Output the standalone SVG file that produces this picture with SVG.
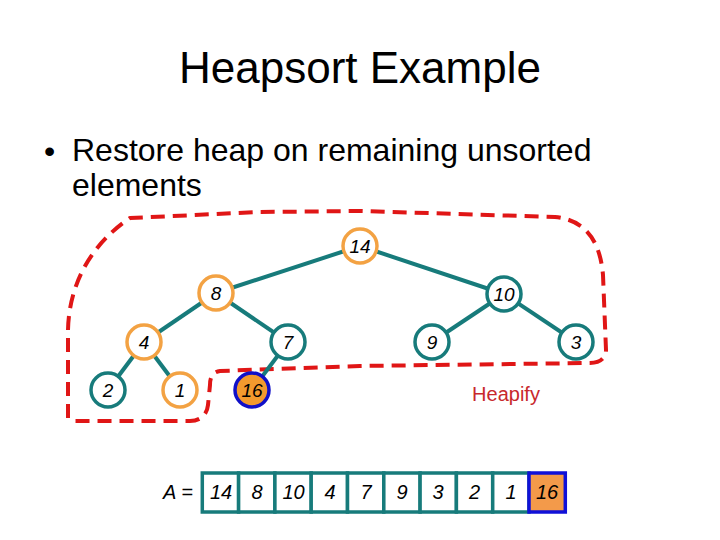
<svg xmlns="http://www.w3.org/2000/svg" width="720" height="540" viewBox="0 0 720 540">
<style>
  text { font-family: "Liberation Sans", Arial, sans-serif; fill: #000; }
  .title { font-size: 44px; text-anchor: middle; }
  .bullet { font-size: 32px; }
  .num { font-size: 19px; font-style: italic; text-anchor: middle; }
  .cellt { font-size: 20px; font-style: italic; text-anchor: middle; }
  .edge { stroke: #177b7b; stroke-width: 4; fill: none; }
  .n-teal { fill: #fff; stroke: #177b7b; stroke-width: 3.5; }
  .n-orange { fill: #fff; stroke: #f3a243; stroke-width: 3.5; }
  .n-hot { fill: #f39a2e; stroke: #1010c8; stroke-width: 3.5; }
  .cell { fill: #fff; stroke: #177b7b; stroke-width: 3.5; }
  .cell-hot { fill: #f39a4a; stroke: #1010d8; stroke-width: 3.5; }
  .dash { fill: none; stroke: #e01616; stroke-width: 4; stroke-dasharray: 14 8; stroke-linejoin: round; }
</style>
<rect width="720" height="540" fill="#fff"/>
<text class="title" x="360" y="83">Heapsort Example</text>
<text class="bullet" x="44" y="162">•</text>
<text class="bullet" x="72" y="161">Restore heap on remaining unsorted</text>
<text class="bullet" x="72" y="196">elements</text>

<g id="region">
  <path class="dash" d="M 68,418 L 68,330 C 69,285 90,245 130,218 L 260,212 L 360,211 L 555,217 C 585,220 600,240 603,275 L 606,350 C 606,358 600,363 590,363 L 360,366 L 220,371 C 212,372 210,378 210,385 L 208,405 C 207,415 200,421 190,421 L 70,421"/>
</g>

<g id="connectors">
  <line class="edge" x1="360" y1="246" x2="216" y2="293"/>
  <line class="edge" x1="360" y1="246" x2="504" y2="294"/>
  <line class="edge" x1="216" y1="293" x2="144" y2="342"/>
  <line class="edge" x1="216" y1="293" x2="288" y2="342"/>
  <line class="edge" x1="504" y1="294" x2="432" y2="342"/>
  <line class="edge" x1="504" y1="294" x2="576" y2="342"/>
  <line class="edge" x1="144" y1="342" x2="108" y2="390"/>
  <line class="edge" x1="144" y1="342" x2="180" y2="390"/>
  <line class="edge" x1="288" y1="342" x2="252" y2="390"/>
</g>

<g id="node-14"><circle class="n-orange" cx="360" cy="246" r="17"/><text class="num" x="360" y="252.5">14</text></g>
<g id="node-8"><circle class="n-orange" cx="216" cy="293" r="17"/><text class="num" x="216" y="299.5">8</text></g>
<g id="node-10"><circle class="n-teal" cx="504" cy="294" r="17"/><text class="num" x="504" y="300.5">10</text></g>
<g id="node-4"><circle class="n-orange" cx="144" cy="342" r="17"/><text class="num" x="144" y="348.5">4</text></g>
<g id="node-7"><circle class="n-teal" cx="288" cy="342" r="17"/><text class="num" x="288" y="348.5">7</text></g>
<g id="node-9"><circle class="n-teal" cx="432" cy="342" r="17"/><text class="num" x="432" y="348.5">9</text></g>
<g id="node-3"><circle class="n-teal" cx="576" cy="342" r="17"/><text class="num" x="576" y="348.5">3</text></g>
<g id="node-2"><circle class="n-teal" cx="108" cy="390" r="17"/><text class="num" x="108" y="396.5">2</text></g>
<g id="node-1"><circle class="n-orange" cx="180" cy="390" r="17"/><text class="num" x="180" y="396.5">1</text></g>
<g id="node-16"><circle class="n-hot" cx="252" cy="390" r="17"/><text class="num" x="252" y="396.5">16</text></g>

<text x="506" y="401" font-size="20" text-anchor="middle" style="fill:#c8282c">Heapify</text>

<g id="array">
  <text class="cellt" x="178" y="499">A =</text>
  <rect class="cell" x="202.3" y="473" width="36.3" height="39"/>
  <rect class="cell" x="238.6" y="473" width="36.3" height="39"/>
  <rect class="cell" x="274.9" y="473" width="36.3" height="39"/>
  <rect class="cell" x="311.2" y="473" width="36.3" height="39"/>
  <rect class="cell" x="347.5" y="473" width="36.3" height="39"/>
  <rect class="cell" x="383.8" y="473" width="36.3" height="39"/>
  <rect class="cell" x="420.1" y="473" width="36.3" height="39"/>
  <rect class="cell" x="456.4" y="473" width="36.3" height="39"/>
  <rect class="cell" x="492.7" y="473" width="36.3" height="39"/>
  <rect class="cell-hot" x="529" y="473" width="36.3" height="39"/>
  <text class="cellt" x="221" y="499">14</text>
  <text class="cellt" x="257" y="499">8</text>
  <text class="cellt" x="293.5" y="499">10</text>
  <text class="cellt" x="330" y="499">4</text>
  <text class="cellt" x="366" y="499">7</text>
  <text class="cellt" x="402" y="499">9</text>
  <text class="cellt" x="438" y="499">3</text>
  <text class="cellt" x="474.5" y="499">2</text>
  <text class="cellt" x="511" y="499">1</text>
  <text class="cellt" x="547" y="499">16</text>
</g>
</svg>
